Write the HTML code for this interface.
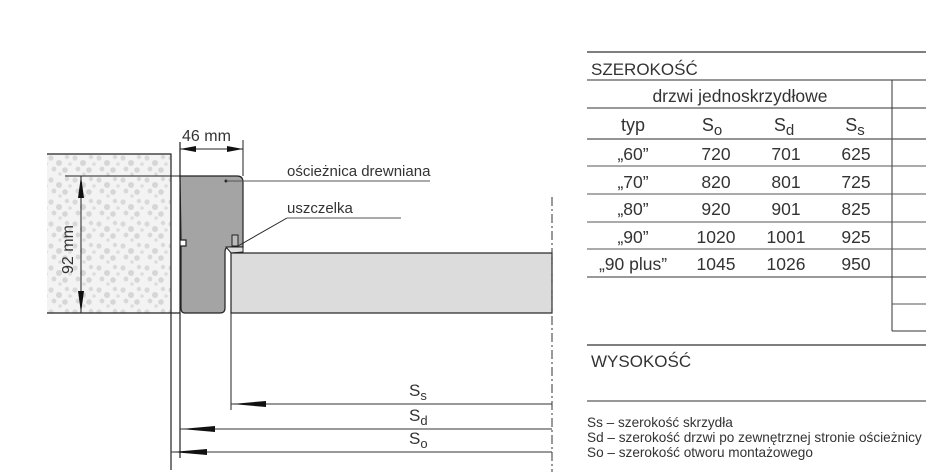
<!DOCTYPE html>
<html><head><meta charset="utf-8"><style>
html,body{margin:0;padding:0;background:#fff;}
svg{display:block;}
text{font-family:"Liberation Sans",sans-serif;fill:#333;}
</style></head><body>
<svg width="926" height="475" viewBox="0 0 926 475" xmlns="http://www.w3.org/2000/svg">
<defs>
<pattern id="spk" width="24" height="22" patternUnits="userSpaceOnUse">
<rect width="24" height="22" fill="#f3f3f3"/>
<circle cx="3" cy="4" r="2.6" fill="#d9d9d9"/>
<circle cx="11" cy="9" r="3" fill="#d6d6d6"/>
<circle cx="19" cy="3" r="2.2" fill="#dadada"/>
<circle cx="6" cy="15" r="2.4" fill="#d8d8d8"/>
<circle cx="17" cy="16" r="2.8" fill="#d6d6d6"/>
<circle cx="22" cy="10" r="1.8" fill="#dcdcdc"/>
<circle cx="12" cy="20" r="1.8" fill="#dcdcdc"/>
</pattern>
</defs>
<!-- wall -->
<rect x="47" y="154" width="124" height="159" fill="url(#spk)"/>
<polyline points="47,154 171,154 171,470" fill="none" stroke="#222" stroke-width="1.2"/>
<line x1="47" y1="313" x2="180" y2="313" stroke="#222" stroke-width="1.2"/>
<!-- frame -->
<line x1="180" y1="142" x2="180" y2="458" stroke="#222" stroke-width="1.2"/>
<path d="M180,176 L237,176 Q243,176 243,182 L243,247 L228,247 Q225,248 225,252 L225,308 Q225,313 220,313 L185,313 Q181,313 181,308 L181,246 L186,246 L186,240 L181,240 Z" fill="#a4a4a4" stroke="#222" stroke-width="1.2"/>
<!-- gasket -->
<rect x="232" y="235" width="6" height="11" fill="#bbb" stroke="#222"/>
<path d="M226,247 L243,247 L243,252 L231,253 Z" fill="#ddd" stroke="#222"/>
<!-- 46mm -->
<line x1="243" y1="140" x2="243" y2="176" stroke="#222"/>
<line x1="180" y1="149" x2="243" y2="149" stroke="#222"/>
<polygon points="180,149 196,146 196,152" fill="#111"/>
<polygon points="243,149 227,146 227,152" fill="#111"/>
<text x="182" y="141" font-size="16">46 mm</text>
<!-- 92mm -->
<line x1="65" y1="176" x2="180" y2="176" stroke="#222"/>
<line x1="81" y1="176" x2="81" y2="313" stroke="#222"/>
<polygon points="81,176 78,198 84,198" fill="#111"/>
<polygon points="81,313 78,291 84,291" fill="#111"/>
<text x="0" y="0" font-size="16" transform="translate(73,274) rotate(-90)">92 mm</text>
<!-- leaders -->
<circle cx="226" cy="181" r="1.5" fill="#222"/>
<line x1="226" y1="181" x2="430" y2="181" stroke="#555"/>
<text x="287" y="176" font-size="15">ościeżnica drewniana</text>
<line x1="238" y1="246" x2="287" y2="218" stroke="#222"/>
<line x1="287" y1="218" x2="401" y2="218" stroke="#555"/>
<text x="287" y="213" font-size="15">uszczelka</text>
<!-- door leaf -->
<rect x="231" y="253" width="321" height="60" fill="#dcdcdc" stroke="#222" stroke-width="1.2"/>
<line x1="231" y1="313" x2="231" y2="410" stroke="#222"/>
<line x1="552" y1="197" x2="552" y2="472" stroke="#333" stroke-dasharray="9,3,2,3"/>
<!-- bottom dims -->
<line x1="231" y1="404" x2="552" y2="404" stroke="#333"/>
<polygon points="232,404 266,401 266,407" fill="#111"/>
<text x="409" y="396" font-size="17">S<tspan font-size="13" dy="4">s</tspan></text>
<line x1="180" y1="429" x2="552" y2="429" stroke="#333"/>
<polygon points="181,429 215,426 215,432" fill="#111"/>
<text x="409" y="421" font-size="17">S<tspan font-size="13" dy="4">d</tspan></text>
<line x1="171" y1="452" x2="552" y2="452" stroke="#333"/>
<polygon points="172,452 207,449 207,455" fill="#111"/>
<text x="409" y="444" font-size="17">S<tspan font-size="13" dy="4">o</tspan></text>
<!-- table -->
<line x1="587" y1="52" x2="926" y2="52" stroke="#333" stroke-width="1.2"/>
<text x="591" y="75" font-size="17">SZEROKOŚĆ</text>
<line x1="587" y1="80" x2="926" y2="80" stroke="#777" stroke-width="1.6"/>
<line x1="892" y1="80" x2="892" y2="331" stroke="#333"/>
<text x="740" y="102" font-size="17.5" text-anchor="middle">drzwi jednoskrzydłowe</text>
<line x1="587" y1="108" x2="926" y2="108" stroke="#333"/>
<g font-size="18" text-anchor="middle">
<text x="633" y="131">typ</text>
<text x="712" y="131">S<tspan font-size="15" dy="4">o</tspan></text>
<text x="784" y="131">S<tspan font-size="15" dy="4">d</tspan></text>
<text x="855" y="131">S<tspan font-size="15" dy="4">s</tspan></text>
</g>
<line x1="587" y1="139" x2="926" y2="139" stroke="#555" stroke-width="1.2"/>
<g font-size="17.5" text-anchor="middle">
<text x="633" y="160">„60”</text><text x="716" y="160">720</text><text x="786" y="160">701</text><text x="856" y="160">625</text>
<text x="633" y="188">„70”</text><text x="716" y="188">820</text><text x="786" y="188">801</text><text x="856" y="188">725</text>
<text x="633" y="215">„80”</text><text x="716" y="215">920</text><text x="786" y="215">901</text><text x="856" y="215">825</text>
<text x="633" y="243">„90”</text><text x="716" y="243">1020</text><text x="786" y="243">1001</text><text x="856" y="243">925</text>
<text x="633" y="270">„90 plus”</text><text x="716" y="270">1045</text><text x="786" y="270">1026</text><text x="856" y="270">950</text>
</g>
<line x1="587" y1="166" x2="926" y2="166" stroke="#555"/>
<line x1="587" y1="194" x2="926" y2="194" stroke="#555"/>
<line x1="587" y1="222" x2="926" y2="222" stroke="#555"/>
<line x1="587" y1="249" x2="926" y2="249" stroke="#555"/>
<line x1="587" y1="277" x2="926" y2="277" stroke="#333"/>
<line x1="892" y1="304" x2="926" y2="304" stroke="#555"/>
<line x1="892" y1="331" x2="926" y2="331" stroke="#333"/>
<line x1="587" y1="345" x2="926" y2="345" stroke="#333" stroke-width="1.2"/>
<text x="591" y="367" font-size="17">WYSOKOŚĆ</text>
<line x1="587" y1="401" x2="926" y2="401" stroke="#777" stroke-width="1.6"/>
<g font-size="13.6">
<text x="587" y="427">Ss – szerokość skrzydła</text>
<text x="587" y="442">Sd – szerokość drzwi po zewnętrznej stronie ościeżnicy</text>
<text x="587" y="457">So – szerokość otworu montażowego</text>
</g>
</svg>
</body></html>
